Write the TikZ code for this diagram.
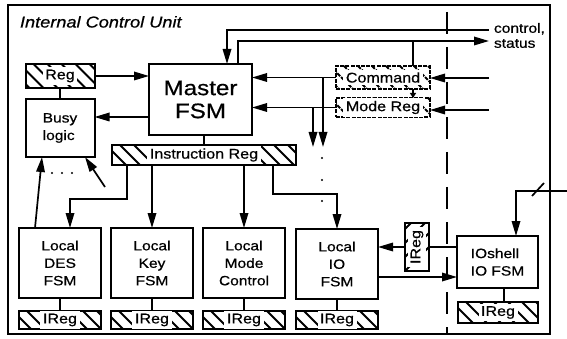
\documentclass[tikz,border=0pt]{standalone}
\usepackage{fontspec}
\setmainfont{Liberation Sans}[FakeStretch=1.15,FakeBold=0.6]
\usetikzlibrary{arrows.meta}
\newcommand{\wbg}[1]{{\setlength{\fboxsep}{2.5pt}\colorbox{white}{#1}}}
\begin{document}
\begin{tikzpicture}[x=1pt,y=-1pt,
  every node/.style={inner sep=0pt, outer sep=0pt},
  box/.style={draw, line width=2pt, align=center, font=\fontsize{13.5}{17.5}\selectfont},
  hatch/.style={draw, line width=2pt, font=\fontsize{14}{15}\selectfont,
    path picture={\foreach \i in {-48,-34,...,220} \draw[line width=1.8pt] ([xshift=\i pt]path picture bounding box.north west) -- ++(40pt,-40pt);}},
  wavy/.style={dash pattern=on 4pt off 1.2pt},
  conn/.style={line width=1.7pt},
  arr/.style={conn, -{Triangle[length=15pt,width=8.5pt]}},
  sarr/.style={conn, -{Triangle[length=5pt,width=6pt]}},
  frame/.style={line width=1.8pt},
  sep/.style={line width=1.6pt, dash pattern=on 22pt off 13pt},
]
\useasboundingbox (0,0) rectangle (567,339);
\draw[frame] (8,5) rectangle (550,334);
\node[anchor=base west, font=\itshape\fontsize{15.8}{18}\selectfont] (title) at (20,27.5) {Internal Control Unit};

% upper blocks
\node[box, minimum width=103pt, minimum height=71pt, font=\fontsize{21}{23}\selectfont] (master) at (200.5,99.5) {Master\\FSM};
\node[hatch, minimum width=69pt, minimum height=24pt] (reg) at (60,76) {\wbg{Reg}};
\node[box, align=left, minimum width=69pt, minimum height=58pt] (busy) at (60,128) {Busy\\logic};
\node[hatch, minimum width=184pt, minimum height=20pt] (instr) at (204,155) {\wbg{Instruction Reg}};
\node[hatch, wavy, minimum width=94pt, minimum height=23pt] (command) at (383,77.5) {\wbg{Command}};
\node[hatch, wavy, minimum width=94pt, minimum height=19pt] (modereg) at (383,107.5) {\wbg{Mode Reg}};

% local FSMs
\node[box, minimum width=82pt, minimum height=70pt] (des) at (60,263) {Local\\DES\\FSM};
\node[box, minimum width=82pt, minimum height=70pt] (key) at (152,263) {Local\\Key\\FSM};
\node[box, minimum width=82pt, minimum height=70pt] (mode) at (244,263) {Local\\Mode\\Control};
\node[box, minimum width=82pt, minimum height=70pt] (lio) at (337,264) {Local\\IO\\FSM};
\node[hatch, minimum width=82pt, minimum height=18pt] (ireg1) at (60,320) {\wbg{IReg}};
\node[hatch, minimum width=82pt, minimum height=18pt] (ireg2) at (152,320) {\wbg{IReg}};
\node[hatch, minimum width=82pt, minimum height=18pt] (ireg3) at (244,320) {\wbg{IReg}};
\node[hatch, minimum width=82pt, minimum height=18pt] (ireg4) at (337,320) {\wbg{IReg}};

% IO shell
\node[hatch, rotate=90, minimum width=48pt, minimum height=24pt] (rireg) at (417,247) {\wbg{IReg}};
\node[box, align=left, minimum width=81pt, minimum height=52pt] (ioshell) at (497.5,262) {IOshell\\IO FSM};
\node[hatch, minimum width=80pt, minimum height=21pt] (ioireg) at (498,312.5) {\wbg{IReg}};

\node[anchor=north west, align=left, font=\fontsize{13.5}{15}\selectfont] (cs) at (494,23) {control,\\status};

% separator
\draw[sep] (447,12) -- (447,333);

% connectors
\coordinate (ctlin) at (489,30);
\coordinate (stout) at (489,41);
\coordinate (cin) at (489,78);
\coordinate (min) at (489,110);
\draw[arr] (ctlin) -- (227,30) -- (master.north -| 227,0);
\draw[arr] (master.north -| 238,0) -- (238,41) -- (stout);
\draw[conn] (413,41) -- (command.north -| 413,0);
\draw[sarr] (command.south -| 413,0) -- (modereg.north -| 413,0);
\draw[arr] (cin) -- (command.east |- cin);
\draw[arr] (min) -- (modereg.east |- min);
\draw[arr] (command.west) -- (master.east |- command.west);
\draw[arr] (modereg.west) -- (master.east |- modereg.west);
\draw[arr] (323,77.5) -- (323,147);
\draw[arr] (313,107.5) -- (313,147);
\fill (322,158) circle (1.2) (322,180) circle (1.2) (322,201) circle (1.2);

\draw[arr] (reg.east) -- (master.west |- reg.east);
\draw[arr] (master.west |- 0,117) -- (busy.east |- 0,117);
\draw[conn] (reg.south) -- (busy.north);
\draw[conn] (master.south -| instr.north) -- (instr.north);

\draw[arr] (instr.south -| 127,0) -- (127,199) -- (70,199) -- (des.north -| 70,0);
\draw[arr] (instr.south -| key.north) -- (key.north);
\draw[arr] (instr.south -| mode.north) -- (mode.north);
\draw[arr] (instr.south -| 273,0) -- (273,194) -- (337,194) -- (lio.north);

\draw[arr] (des.north -| 35,0) -- (busy.south -| 42,0);
\coordinate (bfree) at (105,187);
\draw[arr] (bfree) -- (busy.south -| 85,0);
\fill (52,173) circle (1.1) (62,173) circle (1.1) (72,173) circle (1.1);

\draw[conn] (des.south) -- (ireg1.north);
\draw[conn] (key.south) -- (ireg2.north);
\draw[conn] (mode.south) -- (ireg3.north);
\draw[conn] (lio.south) -- (ireg4.north);

\draw[arr] (rireg.north) -- (lio.east |- rireg.north);
\draw[conn] (rireg.south) -- (ioshell.west |- rireg.south);
\draw[arr] (lio.east |- 0,277) -- (ioshell.west |- 0,277);
\draw[conn] (ioshell.south -| 504,0) -- (ioireg.north -| 504,0);

\coordinate (busin) at (567,191);
\draw[arr] (busin) -- (516,191) -- (ioshell.north -| 516,0);
\draw[conn] (532,196) -- (544,183);
\end{tikzpicture}
\end{document}
